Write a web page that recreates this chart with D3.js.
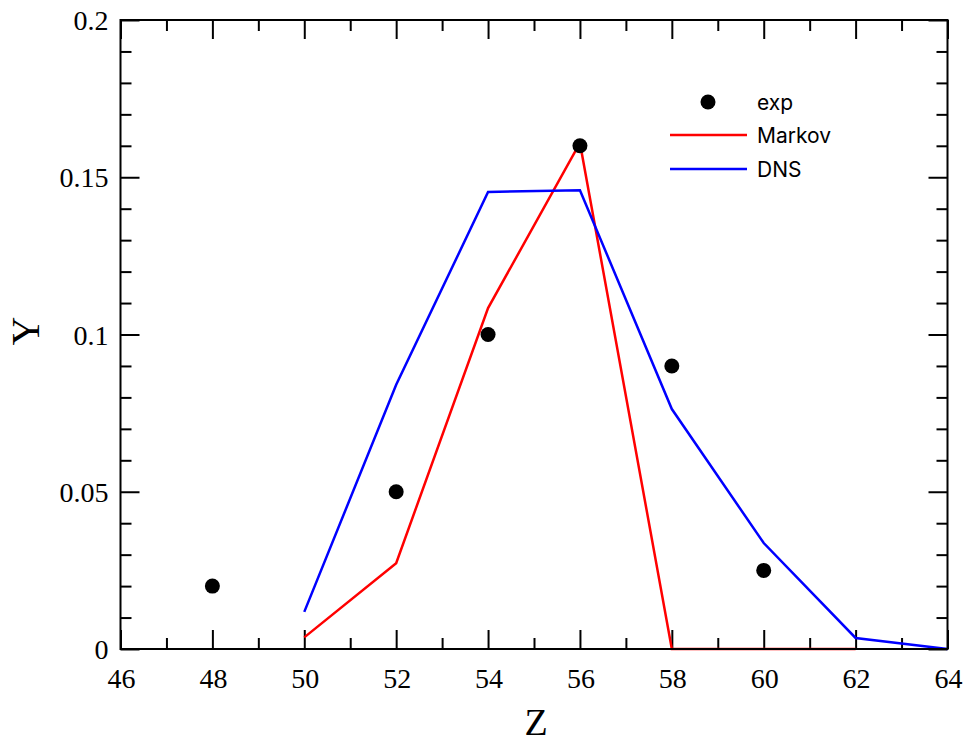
<!DOCTYPE html>
<html><head><meta charset="utf-8">
<script src="https://cdn.jsdelivr.net/npm/d3@7"></script>
<style>body{margin:0;background:#fff}</style>
</head><body>
<svg id="c" width="967" height="744"></svg>
<script>
const expZ = [48, 52, 54, 56, 58, 60];
const expY = [0.02, 0.05, 0.1, 0.16, 0.09, 0.025];
const markovZ = [50, 52, 54, 56, 58, 60, 62];
const markovY = [0.0037, 0.0273, 0.1084, 0.1609, 0, 0, 0];
const dnsZ = [50, 52, 54, 56, 58, 60, 62, 64];
const dnsY = [0.0118, 0.084, 0.1453, 0.1459, 0.0763, 0.0337, 0.0035, 0];
const xTicks = [46, 48, 50, 52, 54, 56, 58, 60, 62, 64];
const yTicks = [0, 0.05, 0.1, 0.15, 0.2];
const yTickLabels = ["0", "0.05", "0.1", "0.15", "0.2"];
const legendLabels = ["exp", "Markov", "DNS"];

const L = 120.5, R = 947.5, T = 20, B = 649;
const svg = d3.select("#c");
const x = d3.scaleLinear().domain([46, 64]).range([L, R]);
const y = d3.scaleLinear().domain([0, 0.2]).range([B, T]);

const xMinor = d3.range(47, 64, 2);
const yMinor = d3.range(0, 0.2001, 0.01).filter(v => Math.abs(Math.round(v*100)%5) !== 0);

function axis(gen, tr) {
  const g = svg.append("g").attr("transform", tr).call(gen);
  g.select(".domain").remove();
  g.selectAll(".tick line").attr("stroke", "#000").attr("stroke-width", 2);
  return g;
}
axis(d3.axisTop(x).tickValues(xTicks).tickSize(19).tickFormat(""), `translate(0,${B})`);
axis(d3.axisTop(x).tickValues(xMinor).tickSize(11).tickFormat(""), `translate(0,${B})`);
axis(d3.axisBottom(x).tickValues(xTicks).tickSize(19).tickFormat(""), `translate(0,${T})`);
axis(d3.axisBottom(x).tickValues(xMinor).tickSize(11).tickFormat(""), `translate(0,${T})`);
axis(d3.axisRight(y).tickValues(yTicks).tickSize(19).tickFormat(""), `translate(${L},0)`);
axis(d3.axisRight(y).tickValues(yMinor).tickSize(11).tickFormat(""), `translate(${L},0)`);
axis(d3.axisLeft(y).tickValues(yTicks).tickSize(19).tickFormat(""), `translate(${R},0)`);
axis(d3.axisLeft(y).tickValues(yMinor).tickSize(11).tickFormat(""), `translate(${R},0)`);

svg.append("g").selectAll("text").data(xTicks).join("text")
  .attr("x", d => x(d) + 1).attr("y", B + 39).attr("text-anchor", "middle")
  .attr("font-family", "Liberation Serif").attr("font-size", 28).text(d => d);
svg.append("g").selectAll("text").data(yTicks).join("text")
  .attr("x", L - 12).attr("y", d => y(d) + 10).attr("text-anchor", "end")
  .attr("font-family", "Liberation Serif").attr("font-size", 28).text((d, i) => yTickLabels[i]);

svg.append("text").attr("x", 536).attr("y", 735).attr("text-anchor", "middle")
  .attr("font-family", "Liberation Serif").attr("font-size", 38).text("Z");
svg.append("text").attr("transform", `translate(39,331) rotate(-90)`).attr("text-anchor", "middle")
  .attr("font-family", "Liberation Serif").attr("font-size", 40).text("Y");

const line = d3.line().x(d => x(d[0])).y(d => y(d[1]));
svg.append("path").datum(markovZ.map((z, i) => [z, markovY[i]]))
  .attr("d", line).attr("fill", "none").attr("stroke", "#ff0000").attr("stroke-width", 2.5);
svg.append("path").datum(dnsZ.map((z, i) => [z, dnsY[i]]))
  .attr("d", line).attr("fill", "none").attr("stroke", "#0000ff").attr("stroke-width", 2.5);

svg.append("g").selectAll("circle").data(expZ.map((z, i) => [z, expY[i]])).join("circle")
  .attr("cx", d => x(d[0])).attr("cy", d => y(d[1])).attr("r", 7.5).attr("fill", "#000");

svg.append("rect").attr("x", L).attr("y", T).attr("width", R - L).attr("height", B - T)
  .attr("fill", "none").attr("stroke", "#000").attr("stroke-width", 2);

const lg = svg.append("g").attr("font-family", "Inter").attr("font-size", 21);
lg.append("circle").attr("cx", 708).attr("cy", 102).attr("r", 7.5).attr("fill", "#000");
lg.append("line").attr("x1", 670).attr("x2", 747).attr("y1", 135).attr("y2", 135).attr("stroke", "#ff0000").attr("stroke-width", 2.5);
lg.append("line").attr("x1", 670).attr("x2", 747).attr("y1", 169).attr("y2", 169).attr("stroke", "#0000ff").attr("stroke-width", 2.5);
[102, 135, 169].forEach((yy, i) => {
  lg.append("text").attr("x", 757).attr("y", yy + 8).text(legendLabels[i]);
});
</script>
</body></html>
